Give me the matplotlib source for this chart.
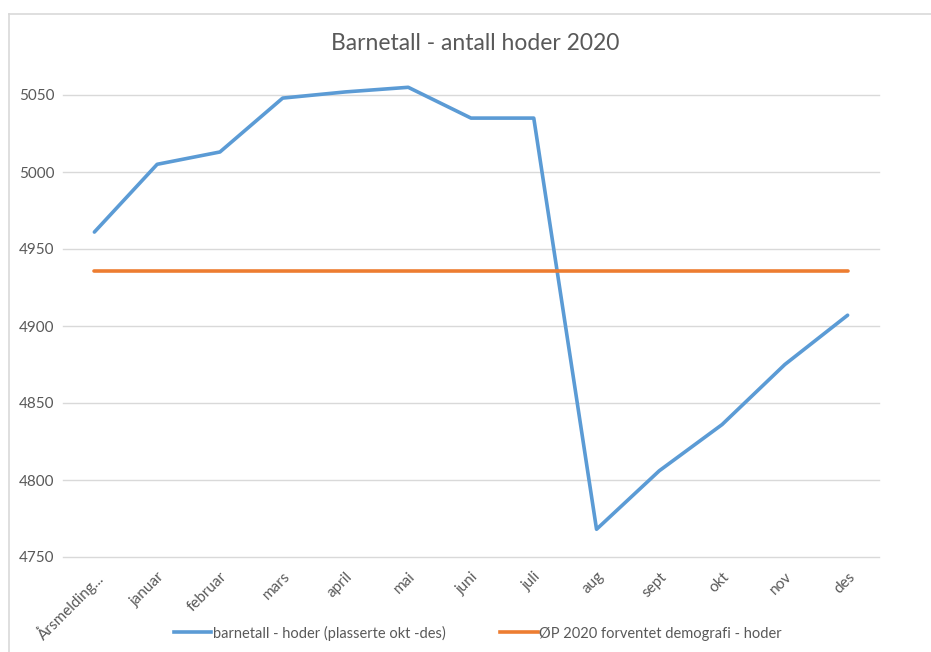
import matplotlib.pyplot as plt
from matplotlib.lines import Line2D

plt.rcParams['font.family'] = ['Lato', 'DejaVu Sans']

maaneder = ['Årsmelding...', 'januar', 'februar', 'mars', 'april', 'mai', 'juni',
            'juli', 'aug', 'sept', 'okt', 'nov', 'des']
barnetall = [4961, 5005, 5013, 5048, 5052, 5055, 5035, 5035, 4768, 4806, 4836, 4875, 4907]
forventet = [4936] * len(maaneder)

blaa = '#5b9bd5'
oransje = '#ed7d31'
tekst = '#595959'

fig = plt.figure(figsize=(9.31, 6.52), dpi=100)
ax = fig.add_axes([63 / 931, 1 - 557 / 652, (879 - 63) / 931, (557 - 95) / 652])

x = range(len(maaneder))
ax.plot(x, barnetall, color=blaa, linewidth=2.6, solid_capstyle='round', clip_on=False,
        label='barnetall - hoder (plasserte okt -des)')
ax.plot(x, forventet, color=oransje, linewidth=2.6, solid_capstyle='round', clip_on=False,
        label='ØP 2020 forventet demografi - hoder')

ax.set_xlim(-0.5, len(maaneder) - 0.5)
ax.set_ylim(4750, 5050)
ax.set_yticks(range(4750, 5051, 50))
ax.set_xticks(list(x))
ax.set_xticklabels(maaneder, rotation=45, ha='right', rotation_mode='anchor')
ax.tick_params(axis='both', length=0, colors=tekst, labelsize=11)
ax.tick_params(axis='x', pad=9)
ax.tick_params(axis='y', pad=6)
ax.grid(axis='y', color='#d9d9d9', linewidth=1)
for gl in ax.get_ygridlines():
    gl.set_clip_on(False)
ax.set_axisbelow(True)
for s in ax.spines.values():
    s.set_visible(False)

fig.text(475 / 931, 1 - 44 / 652, 'Barnetall - antall hoder 2020', ha='center', va='center',
         fontsize=16.5, color=tekst)

handles = [Line2D([], [], color=blaa, linewidth=2.6),
           Line2D([], [], color=oransje, linewidth=2.6)]
fig.legend(handles, ['barnetall - hoder (plasserte okt -des)', 'ØP 2020 forventet demografi - hoder'],
           loc='center', bbox_to_anchor=(0.513, 1 - 633 / 652), ncol=2, frameon=False,
           fontsize=10.5, labelcolor=tekst, handlelength=2.6, handletextpad=0.1, columnspacing=3.7)

# kantlinjer oppe og til venstre
fig.add_artist(Line2D([9 / 931, 1], [1 - 14 / 652, 1 - 14 / 652], color='#d9d9d9', linewidth=1.2))
fig.add_artist(Line2D([9 / 931, 9 / 931], [0, 1 - 14 / 652], color='#d9d9d9', linewidth=1.2))

fig.savefig('out.png', dpi=100)
